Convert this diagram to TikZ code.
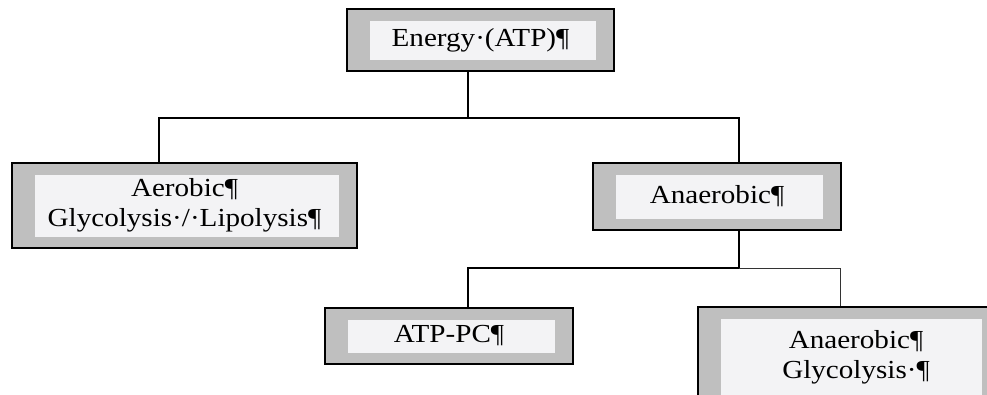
\documentclass[tikz,border=0pt]{standalone}
\usepackage{fontspec}
\setmainfont{Liberation Serif}[FakeStretch=1.12]
\definecolor{boxgray}{HTML}{BFBFBF}
\definecolor{boxlight}{HTML}{F3F3F5}
\begin{document}
\begin{tikzpicture}[x=1pt,y=-1pt,
  tierbox/.style={draw=black, line width=1.7pt, fill=boxgray, inner sep=0pt,
    align=center, font=\fontsize{26}{30}\selectfont,
    path picture={\fill[boxlight]
      ([xshift=23pt,yshift=-12pt]path picture bounding box.north west) rectangle
      ([xshift=-18pt,yshift=11pt]path picture bounding box.south east);}},
  link/.style={draw=black, line width=1.3pt},
  thinlink/.style={draw=black!80, line width=1pt}]
\useasboundingbox (0,0) rectangle (987,395);
\clip (0,0) rectangle (987,395);
\fill[white] (0,0) rectangle (987,395);

% boxes
\node[tierbox, minimum width=267pt, minimum height=62pt] (energy) at (480.5,40) {Energy·(ATP)¶};
\node[tierbox, minimum width=345pt, minimum height=85pt] (aerobic) at (184.5,205.5) {Aerobic¶\\Glycolysis·/·Lipolysis¶};
\node[tierbox, minimum width=248pt, minimum height=67pt] (anaer) at (717,196.5) {Anaerobic¶};
\node[tierbox, minimum width=248pt, minimum height=56pt] (atppc) at (449,336) {ATP-PC¶};
\node[tierbox, minimum width=302pt, minimum height=100pt] (anglyc) at (849,357) {\hspace{14pt}Anaerobic¶\\\hspace{14pt}Glycolysis·¶};

% first bus
\coordinate (top) at (468,118);
\coordinate (busAL) at (159,118);
\coordinate (busAR) at (739,118);
\draw[link] (top |- energy.south) -- (top);
\draw[link] (busAL |- aerobic.north) -- (busAL) -- (busAR) -- (busAR |- anaer.north);

% second bus
\coordinate (busBM) at (739,268);
\coordinate (busBL) at (468,268);
\coordinate (busBR) at (840,268);
\draw[link] (busBM |- anaer.south) -- (busBM);
\draw[link] (busBL |- atppc.north) -- (busBL) -- (busBM);
\draw[thinlink] (busBM) -- (busBR) -- (busBR |- anglyc.north);
\end{tikzpicture}
\end{document}
